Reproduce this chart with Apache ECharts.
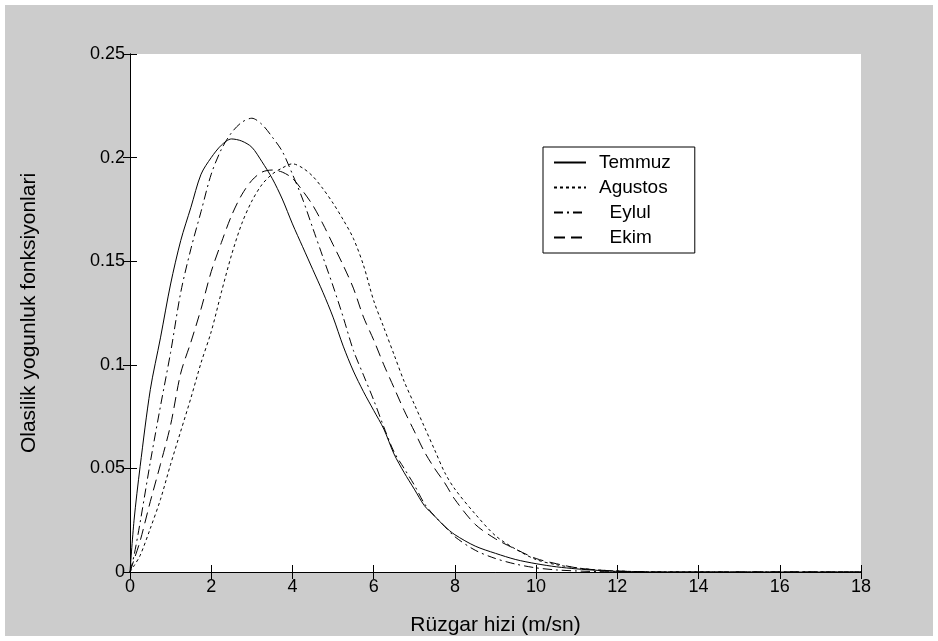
<!DOCTYPE html>
<html>
<head>
<meta charset="utf-8">
<script src="https://cdn.jsdelivr.net/npm/echarts@6/dist/echarts.min.js"></script>
<style>
html,body{margin:0;padding:0;background:#fff;}
#c{width:938px;height:641px;}
</style>
</head>
<body>
<div id="c"></div>
<script>
// Wind speed (m/s)
var xs = [0,0.1,0.25,0.5,0.75,1,1.25,1.5,1.75,2,2.25,2.5,2.75,3,3.25,3.5,3.75,4,4.25,4.5,4.75,5,5.25,5.5,5.75,6,6.25,6.5,6.75,7,7.25,7.5,7.75,8,8.5,9,9.5,10,10.5,11,11.5,12,13,14,15,16,17,18];
var temmuz = [0,0.025,0.051,0.088,0.113,0.139,0.160,0.176,0.192,0.200,0.206,0.209,0.208,0.205,0.198,0.190,0.180,0.168,0.157,0.146,0.135,0.123,0.109,0.097,0.087,0.078,0.069,0.057,0.048,0.040,0.032,0.027,0.022,0.018,0.0125,0.009,0.006,0.004,0.0025,0.0015,0.0008,0.0003,0,0,0,0,0,0];
var agustos = [0,0.003,0.008,0.021,0.035,0.052,0.068,0.084,0.101,0.116,0.135,0.153,0.168,0.179,0.187,0.192,0.195,0.197,0.195,0.191,0.185,0.178,0.170,0.161,0.148,0.131,0.118,0.105,0.092,0.081,0.070,0.059,0.048,0.040,0.028,0.0175,0.011,0.006,0.0035,0.002,0.001,0.0005,0,0,0,0,0,0];
var eylul = [0,0.008,0.024,0.053,0.080,0.106,0.135,0.156,0.174,0.192,0.204,0.212,0.217,0.219,0.216,0.210,0.203,0.192,0.180,0.166,0.152,0.138,0.123,0.107,0.095,0.083,0.070,0.058,0.050,0.042,0.033,0.027,0.022,0.017,0.0105,0.0065,0.0038,0.002,0.001,0.0005,0.0002,0.0001,0,0,0,0,0,0];
var ekim = [0,0.006,0.015,0.034,0.052,0.071,0.096,0.111,0.127,0.145,0.159,0.172,0.182,0.189,0.193,0.194,0.193,0.190,0.184,0.177,0.168,0.158,0.148,0.137,0.123,0.112,0.100,0.089,0.078,0.068,0.058,0.050,0.043,0.035,0.023,0.016,0.011,0.0065,0.004,0.002,0.001,0.0005,0,0,0,0,0,0];
var names = ['Temmuz','Agustos','Eylul','Ekim'];
var dashes = ['solid',[3,3],[9,4,2,4],[11,6]];
var xTicks = {min:0,max:18,interval:2};
var yTicks = {min:0,max:0.25,interval:0.05};

function pairs(ys){ return xs.map(function(x,i){ return [x, ys[i]]; }); }
var seriesData = [temmuz, agustos, eylul, ekim];

var chart = echarts.init(document.getElementById('c'), null, {renderer:'canvas'});
var font = 'Liberation Sans';
var fs = 18;
var tickStyle = {show:true, inside:true, length:7, lineStyle:{color:'#000',width:1}};
var lineStyle = {show:true, lineStyle:{color:'#000',width:1}};
chart.setOption({
  animation:false,
  backgroundColor:'#ffffff',
  graphic:[{type:'rect', z:-10, shape:{x:5,y:5,width:928,height:631}, style:{fill:'#cccccc'}, silent:true}],
  grid:{left:130, right:77, top:54, bottom:64, show:true, backgroundColor:'#ffffff', borderWidth:0},
  legend:{
    show:true, orient:'vertical', left:543, top:147,
    itemWidth:32, itemHeight:14, itemGap:4, padding:[5,24,5,10],
    backgroundColor:'#ffffff', borderColor:'#000', borderWidth:1,
    itemStyle:{color:'rgba(0,0,0,0)', borderWidth:0, opacity:0},
    formatter:function(n){ return (n==='Eylul'||n==='Ekim') ? '  ' + n : n; },
    textStyle:{fontFamily:font, fontSize:19, lineHeight:21, color:'#000', padding:[0,0,0,8]},
    data:names
  },
  xAxis:[
    {type:'value', min:xTicks.min, max:xTicks.max, interval:xTicks.interval, position:'bottom',
     axisLine:lineStyle, axisTick:tickStyle, splitLine:{show:false},
     axisLabel:{fontFamily:font, fontSize:fs, color:'#000', margin:6},
     name:'Rüzgar hizi (m/sn)', nameLocation:'middle', nameGap:43,
     nameTextStyle:{fontFamily:font, fontSize:21, color:'#000'}},
    {type:'value', min:xTicks.min, max:xTicks.max, interval:xTicks.interval, position:'top',
     axisLine:lineStyle, axisTick:tickStyle, axisLabel:{show:false}, splitLine:{show:false}}
  ],
  yAxis:[
    {type:'value', min:yTicks.min, max:yTicks.max, interval:yTicks.interval, position:'left',
     axisLine:lineStyle, axisTick:tickStyle, splitLine:{show:false},
     axisLabel:{fontFamily:font, fontSize:fs, color:'#000', margin:5},
     name:'Olasilik yogunluk fonksiyonlari', nameLocation:'middle', nameGap:90, nameRotate:90,
     nameTextStyle:{fontFamily:font, fontSize:21, color:'#000'}},
    {type:'value', min:yTicks.min, max:yTicks.max, interval:yTicks.interval, position:'right',
     axisLine:lineStyle, axisTick:tickStyle, axisLabel:{show:false}, splitLine:{show:false}}
  ],
  series: names.map(function(n,i){
    return {name:n, type:'line', data:pairs(seriesData[i]), showSymbol:false, symbol:'none',
      smooth:0.3, clip:true,
      lineStyle:{color:'#000', width:1, type:dashes[i]},
      itemStyle:{color:'#000'}};
  })
});
</script>
</body>
</html>
